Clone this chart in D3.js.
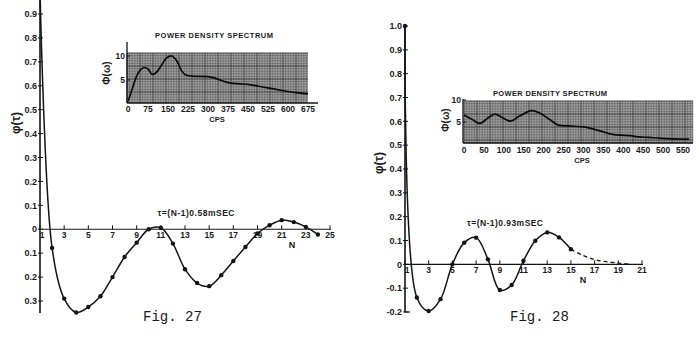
<!DOCTYPE html>
<html><head><meta charset="utf-8">
<script src="https://cdn.jsdelivr.net/npm/d3@7"></script>
<style>body{margin:0;background:#fff}svg{display:block}text{fill:#1a1a1a}</style>
</head><body><svg id="c" width="699" height="356"></svg>
<script>
// ---------- DATA ----------
// Fig. 27 autocorrelation
const n27 = [1,2,3,4,5,6,7,8,9,10,11,12,13,14,15,16,17,18,19,20,21,22,23,24];
const phi27 = [1.0,-0.078,-0.29,-0.348,-0.325,-0.28,-0.20,-0.116,-0.056,0.0,0.006,-0.06,-0.167,-0.225,-0.238,-0.192,-0.133,-0.074,-0.018,0.017,0.038,0.03,0.01,-0.022];
const yTicks27 = [0.9,0.8,0.7,0.6,0.5,0.4,0.3,0.2,0.1,0,-0.1,-0.2,-0.3];
const yTickLabels27 = ["0.9","0.8","0.7","0.6","0.5","0.4","0.3","0.2","0.1","0","0.1","0.2","0.3"];
const xTicks27 = [1,3,5,7,9,11,13,15,17,19,21,23,25];
// Fig. 27 power density spectrum
const cps27 = [0,15,30,45,60,75,90,105,125,145,165,185,200,215,240,300,320,345,380,420,450,485,530,560,600,640,675];
const pds27 = [0.5,3.0,5.5,7.0,7.6,7.3,6.2,6.5,8.0,9.6,10.0,8.8,7.0,6.1,5.8,5.7,5.5,5.0,4.4,4.2,4.1,3.75,3.3,3.0,2.6,2.3,2.1];
const cpsTicks27 = [0,75,150,225,300,375,450,525,600,675];
// Fig. 28 autocorrelation
const n28 = [1,2,3,4,5,6,7,8,9,10,11,12,13,14,15];
const phi28 = [1.0,-0.139,-0.196,-0.146,0.0,0.091,0.112,0.021,-0.108,-0.087,0.015,0.099,0.134,0.113,0.063];
const n28Dash = [15,16,17,18,19,20];
const phi28Dash = [0.063,0.038,0.02,0.011,0.005,0.0];
const yTicks28 = [1.0,0.9,0.8,0.7,0.6,0.5,0.4,0.3,0.2,0.1,0,-0.1,-0.2];
const yTickLabels28 = ["1.0","0.9","0.8","0.7","0.6","0.5","0.4","0.3","0.2","0.1","0","-0.1","-0.2"];
const xTicks28 = [1,3,5,7,9,11,13,15,17,19,21];
// Fig. 28 power density spectrum
const cps28 = [0,20,40,60,78,100,118,140,170,191,216,237,262,300,321,348,366,392,417,440,465,497,565];
const pds28 = [6.6,5.6,4.7,5.9,6.8,5.8,5.2,6.4,7.6,7.0,5.5,4.3,4.1,3.9,3.5,2.8,2.3,2.0,1.9,1.6,1.5,1.3,1.1];
const cpsTicks28 = [0,50,100,150,200,250,300,350,400,450,500,550];

const svg = d3.select("#c").style("font-family","'Liberation Sans',Arial,sans-serif");
const ink = "#141414";

function corrPanel(o){
  const g = svg.append("g");
  const x = d3.scaleLinear().domain(o.xd).range(o.xr);
  const y = d3.scaleLinear().domain(o.yd).range(o.yr);
  g.append("line").attr("x1",o.xr[0]).attr("x2",o.xr[0]).attr("y1",o.yTop).attr("y2",o.yBot)
   .attr("stroke",ink).attr("stroke-width",1.6);
  if(o.bracket) g.append("line").attr("x1",o.xr[0]).attr("x2",o.xr[0]+5).attr("y1",o.yBot).attr("y2",o.yBot).attr("stroke",ink).attr("stroke-width",1.2);
  o.yTicks.forEach((t,i)=>{
    g.append("line").attr("x1",o.xr[0]-2).attr("x2",o.xr[0]+3).attr("y1",y(t)).attr("y2",y(t)).attr("stroke",ink).attr("stroke-width",1);
    g.append("text").attr("x",o.xr[0]-3).attr("y",y(t)+3.2).attr("text-anchor","end")
     .attr("font-size",9).attr("font-weight","bold").text(o.yLabels[i]);
  });
  const y0 = y(0);
  g.append("line").attr("x1",o.xr[0]).attr("x2",x(o.xd[1])+1).attr("y1",y0).attr("y2",y0).attr("stroke",ink).attr("stroke-width",1.2);
  o.xTicks.forEach(t=>{
    g.append("line").attr("x1",x(t)).attr("x2",x(t)).attr("y1",y0-4).attr("y2",y0).attr("stroke",ink).attr("stroke-width",1);
    g.append("text").attr("x",x(t)+(t===1?2:0)).attr("y",y0+9).attr("text-anchor","middle")
     .attr("font-size",8.5).attr("font-weight","bold").text(t);
  });
  const line = d3.line().x(d=>x(d[0])).y(d=>y(d[1])).curve(d3.curveCatmullRom.alpha(0.5));
  const pts = o.n.map((v,i)=>[v,o.phi[i]]);
  g.append("path").attr("d",line(pts)).attr("fill","none").attr("stroke",ink).attr("stroke-width",1.5);
  if(o.nd){
    const dp = o.nd.map((v,i)=>[v,o.phid[i]]);
    g.append("path").attr("d",line(dp)).attr("fill","none").attr("stroke",ink).attr("stroke-width",1.3).attr("stroke-dasharray","4,3");
  }
  g.selectAll("circle").data(pts.slice(o.skipFirst?1:0)).join("circle")
   .attr("cx",d=>x(d[0])).attr("cy",d=>y(d[1])).attr("r",2.2).attr("fill",ink);
  g.append("text").attr("transform",`translate(${o.yLab[0]},${o.yLab[1]}) rotate(-90)`).attr("text-anchor","middle")
   .attr("font-size",12).attr("font-weight","bold").text("φ(τ)");
  g.append("text").attr("x",o.tau[0]).attr("y",o.tau[1]).attr("text-anchor","middle").attr("font-size",8.5).attr("font-weight","bold")
   .attr("textLength",o.tau[2]).text(o.tauText);
  g.append("text").attr("x",o.nLab[0]).attr("y",o.nLab[1]).attr("text-anchor","middle").attr("font-size",9).attr("font-weight","bold").text("N");
}

function specPanel(o){
  const g = svg.append("g");
  const x = d3.scaleLinear().domain(o.xd).range(o.xr);
  const y = d3.scaleLinear().domain([0,10]).range(o.yr);
  const [gx0,gx1,gy0,gy1] = o.grid;
  g.append("rect").attr("x",gx0).attr("y",gy0).attr("width",gx1-gx0).attr("height",gy1-gy0).attr("fill","#a4a4a4");
  d3.range(gx0,gx1,2.6).forEach((v,i)=>g.append("line").attr("x1",v).attr("x2",v).attr("y1",gy0).attr("y2",gy1)
     .attr("stroke",i%5===0?"#333":"#5c5c5c").attr("stroke-width",i%5===0?0.9:0.6));
  d3.range(gy0,gy1,2.6).forEach((v,i)=>g.append("line").attr("x1",gx0).attr("x2",gx1).attr("y1",v).attr("y2",v)
     .attr("stroke",i%5===0?"#333":"#5c5c5c").attr("stroke-width",i%5===0?0.9:0.6));
  g.append("line").attr("x1",o.xr[0]-1).attr("x2",o.axEnd).attr("y1",gy1).attr("y2",gy1).attr("stroke",ink).attr("stroke-width",1.3);
  g.append("line").attr("x1",o.xr[0]-1).attr("x2",o.xr[0]-1).attr("y1",o.axTop).attr("y2",gy1).attr("stroke",ink).attr("stroke-width",1.3);
  [10,5].forEach(t=>{
    g.append("line").attr("x1",o.xr[0]-1).attr("x2",o.xr[0]+2).attr("y1",y(t)).attr("y2",y(t)).attr("stroke",ink).attr("stroke-width",1);
    g.append("text").attr("x",o.xr[0]-3).attr("y",y(t)+3).attr("text-anchor","end").attr("font-size",8.5).attr("font-weight","bold").text(t);
  });
  o.ticks.forEach(t=>g.append("text").attr("x",x(t)).attr("y",o.tickY).attr("text-anchor","middle")
     .attr("font-size",8.5).attr("font-weight","bold").text(t));
  g.append("text").attr("x",o.cps[0]).attr("y",o.cps[1]).attr("text-anchor","middle").attr("font-size",7.5).attr("font-weight","bold").text("CPS");
  g.append("text").attr("x",o.title[0]).attr("y",o.title[1]).attr("text-anchor","middle").attr("font-size",7.5).attr("font-weight","bold")
   .attr("textLength",o.title[2]).text("POWER DENSITY SPECTRUM");
  g.append("text").attr("transform",`translate(${o.yLab[0]},${o.yLab[1]}) rotate(-90)`).attr("text-anchor","middle")
   .attr("font-size",10).attr("font-weight","bold").text("Φ(ω)");
  const line = d3.line().x(d=>x(d[0])).y(d=>y(d[1])).curve(d3.curveCatmullRom.alpha(0.5));
  g.append("path").attr("d",line(o.c.map((v,i)=>[v,o.p[i]]))).attr("fill","none").attr("stroke","#0a0a0a").attr("stroke-width",1.7);
}

corrPanel({xd:[1,25],xr:[40,330],yd:[-0.3,0.9],yr:[301,14],yTop:0,yBot:313,bracket:false,
  yTicks:yTicks27,yLabels:yTickLabels27,xTicks:xTicks27,n:n27,phi:phi27,skipFirst:true,
  yLab:[20,123],tau:[196,216,77],tauText:"τ=(N-1)0.58mSEC",nLab:[292,248]});
corrPanel({xd:[1,21],xr:[405,642],yd:[-0.2,1.0],yr:[312,26],yTop:24,yBot:312,bracket:true,
  yTicks:yTicks28,yLabels:yTickLabels28,xTicks:xTicks28,n:n28,phi:phi28,skipFirst:false,nd:n28Dash,phid:phi28Dash,
  yLab:[383,163],tau:[505,226,76],tauText:"τ=(N-1)0.93mSEC",nLab:[583,283]});

specPanel({xd:[0,675],xr:[128,308],yr:[104,56],grid:[127,308,53,103],axEnd:318,axTop:42,
  ticks:cpsTicks27,c:cps27,p:pds27,tickY:112,cps:[217,122],title:[214,38,118],yLab:[110,73]});
specPanel({xd:[0,550],xr:[464,683],yr:[144,100],grid:[464,693,101,143],axEnd:693,axTop:99,
  ticks:cpsTicks28,c:cps28,p:pds28,tickY:153,cps:[582,163],title:[550,96,114],yLab:[449,120]});

svg.append("text").attr("x",143).attr("y",321).style("font-family","'Liberation Mono','DejaVu Sans Mono',monospace").attr("font-size",14).text("Fig. 27");
svg.append("text").attr("x",510).attr("y",321).style("font-family","'Liberation Mono','DejaVu Sans Mono',monospace").attr("font-size",14).text("Fig. 28");
</script></body></html>
